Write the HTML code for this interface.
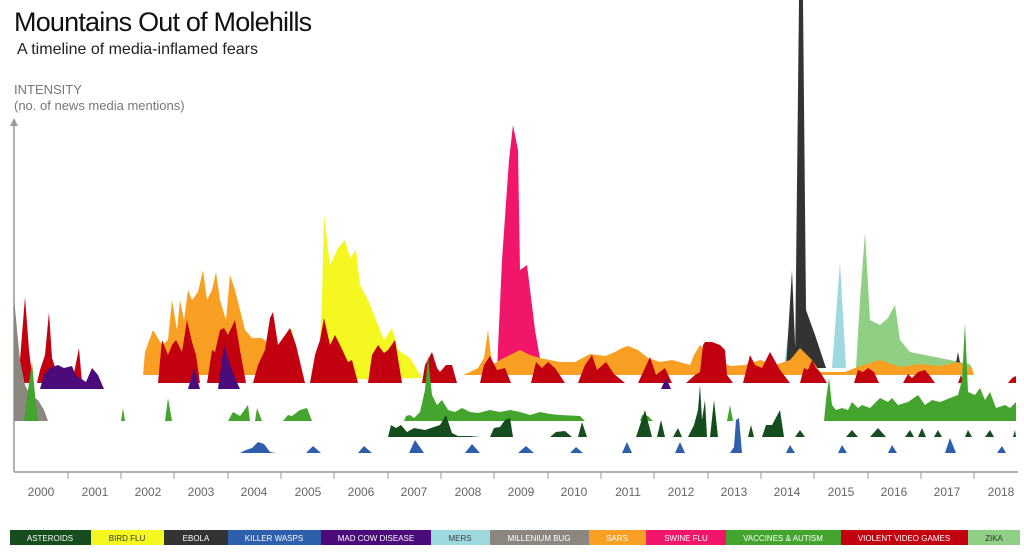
<!DOCTYPE html>
<html><head><meta charset="utf-8"><style>
body{margin:0;background:#fff;width:1024px;height:547px;overflow:hidden;font-family:"Liberation Sans",sans-serif}
</style></head><body>
<svg width="1024" height="547" viewBox="0 0 1024 547" xmlns="http://www.w3.org/2000/svg" font-family="Liberation Sans, sans-serif">
<text x="14" y="31" font-size="27" fill="#111" letter-spacing="-0.8">Mountains Out of Molehills</text>
<text x="17" y="54" font-size="16" fill="#222">A timeline of media-inflamed fears</text>
<text x="14" y="94" font-size="13" fill="#777">INTENSITY</text>
<text x="14" y="110" font-size="13" fill="#777">(no. of news media mentions)</text>
<line x1="14" y1="124" x2="14" y2="472" stroke="#999" stroke-width="1.5"/>
<path d="M10,126 L14,118 L18,126 Z" fill="#999"/>
<line x1="14" y1="472" x2="1018" y2="472" stroke="#999" stroke-width="1.5"/>
<g stroke="#999" stroke-width="1">
<line x1="68" y1="472" x2="68" y2="479"/><line x1="121" y1="472" x2="121" y2="479"/><line x1="174" y1="472" x2="174" y2="479"/><line x1="228" y1="472" x2="228" y2="479"/><line x1="281" y1="472" x2="281" y2="479"/><line x1="334" y1="472" x2="334" y2="479"/><line x1="388" y1="472" x2="388" y2="479"/><line x1="441" y1="472" x2="441" y2="479"/><line x1="494" y1="472" x2="494" y2="479"/><line x1="548" y1="472" x2="548" y2="479"/><line x1="601" y1="472" x2="601" y2="479"/><line x1="654" y1="472" x2="654" y2="479"/><line x1="708" y1="472" x2="708" y2="479"/><line x1="761" y1="472" x2="761" y2="479"/><line x1="814" y1="472" x2="814" y2="479"/><line x1="868" y1="472" x2="868" y2="479"/><line x1="921" y1="472" x2="921" y2="479"/><line x1="974" y1="472" x2="974" y2="479"/>
</g>
<g font-size="12" fill="#666" text-anchor="middle">
<text x="41" y="496">2000</text><text x="95" y="496">2001</text><text x="148" y="496">2002</text><text x="201" y="496">2003</text><text x="254" y="496">2004</text><text x="308" y="496">2005</text><text x="361" y="496">2006</text><text x="414" y="496">2007</text><text x="468" y="496">2008</text><text x="521" y="496">2009</text><text x="574" y="496">2010</text><text x="628" y="496">2011</text><text x="681" y="496">2012</text><text x="734" y="496">2013</text><text x="787" y="496">2014</text><text x="841" y="496">2015</text><text x="894" y="496">2016</text><text x="947" y="496">2017</text><text x="1001" y="496">2018</text>
</g>

<!-- Zika -->
<path fill="#90d084" d="M856,368 L860,300 L865,232 L870,320 L880,325 L888,318 L895,305 L900,340 L910,352 L930,356 L970,364 L972,368 Z"/>
<!-- MERS -->
<path fill="#9dd9df" d="M784,368 L790,318 L795,368 Z M832,368 L840,262 L846,368 Z"/>
<!-- Ebola -->
<path fill="#333" d="M786,368 L792,270 L796,368 Z M795,368 L799,0 L803,0 L806,310 L815,335 L826,368 Z M955,368 L958,352 L961,368 Z"/>
<!-- Swine flu -->
<path fill="#f2166b" d="M497,370 L502,260 L509,160 L513,125 L518,150 L520,270 L527,265 L535,330 L542,370 Z"/>
<!-- Bird flu -->
<path fill="#f4f820" d="M318,380 L322,300 L324,215 L330,265 L338,248 L345,240 L350,258 L356,250 L360,285 L368,300 L376,320 L384,340 L392,328 L398,350 L410,358 L422,378 Z M287,380 L292,326 L296,380 Z"/>
<!-- SARS -->
<path fill="#f9a024" d="M143,375 L145,352 L153,330 L162,345 L168,340 L172,300 L177,330 L180,300 L184,320 L188,290 L192,300 L198,292 L203,270 L207,300 L212,290 L216,272 L220,300 L226,320 L230,275 L235,290 L240,310 L245,330 L252,338 L262,338 L270,345 L276,375 Z M463,375 L470,372 L478,368 L484,358 L488,330 L492,365 L500,360 L510,355 L520,350 L530,355 L540,358 L560,362 L575,362 L590,354 L605,356 L615,352 L622,348 L628,346 L638,350 L648,358 L660,362 L672,360 L690,365 L694,355 L700,345 L710,355 L730,366 L745,365 L760,360 L775,365 L790,360 L800,348 L812,360 L820,372 L845,372 L860,366 L880,360 L900,367 L920,364 L940,366 L958,362 L972,368 L974,375 Z"/>
<!-- Violent video games -->
<path fill="#c2000f" d="M18,383 L20,360 L25,297 L29,350 L33,383 Z M37,383 L40,370 L45,355 L49,312 L52,358 L56,370 L60,383 Z M72,383 L79,348 L82,383 Z
M158,383 L162,340 L168,355 L172,345 L176,340 L182,352 L187,320 L192,342 L196,355 L200,383 Z
M207,383 L212,350 L215,352 L220,330 L224,328 L228,335 L235,320 L240,350 L246,383 Z
M253,383 L258,365 L265,350 L270,318 L273,312 L278,345 L283,338 L290,328 L296,345 L305,383 Z
M310,383 L315,355 L320,340 L324,318 L330,345 L335,335 L340,345 L348,362 L352,360 L358,383 Z
M368,383 L372,355 L378,345 L384,353 L388,350 L395,340 L402,383 Z
M422,383 L425,365 L432,352 L437,368 L440,372 L446,365 L452,365 L457,383 Z
M480,383 L484,365 L490,356 L497,370 L505,368 L511,383 Z
M531,383 L536,362 L542,368 L548,362 L555,368 L565,383 Z
M578,383 L585,365 L592,355 L597,370 L606,362 L614,374 L625,383 Z
M638,383 L645,368 L650,357 L656,375 L665,368 L672,383 Z
M686,383 L695,375 L700,372 L703,345 L705,342 L712,342 L720,345 L725,350 L727,375 L733,383 Z
M743,383 L750,355 L755,365 L762,368 L770,352 L780,370 L790,383 Z
M800,383 L804,368 L808,370 L812,360 L816,368 L820,372 L827,383 Z
M854,383 L858,370 L863,372 L868,368 L874,372 L879,383 Z
M903,383 L908,374 L912,378 L918,372 L925,370 L930,376 L935,383 Z
M958,383 L961,375 L964,383 Z M1008,383 L1012,378 L1016,376 L1016,383 Z"/>
<!-- Mad cow -->
<path fill="#4b0b7a" d="M40,389 L44,375 L50,368 L58,365 L64,368 L72,366 L76,376 L80,378 L86,382 L92,368 L98,375 L104,389 Z M188,389 L194,368 L200,389 Z M218,389 L222,360 L224,345 L230,365 L236,380 L240,389 Z M661,389 L666,378 L671,389 Z"/>
<!-- Millenium bug -->
<path fill="#8c8680" d="M14,421 L14,297 L17,330 L20,360 L25,385 L30,395 L38,400 L44,410 L48,421 Z"/>
<!-- Vaccines & Autism -->
<path fill="#44a52e" d="M24,421 L28,390 L32,362 L35,395 L38,421 Z M121,421 L123,408 L125,421 Z M165,421 L168,398 L172,421 Z M228,421 L233,412 L240,416 L248,405 L250,421 Z M255,421 L257,408 L262,421 Z M283,421 L288,415 L292,416 L300,410 L307,408 L312,421 Z
M404,421 L406,416 L410,415 L414,418 L420,412 L425,390 L428,356 L432,395 L437,405 L442,400 L448,410 L455,412 L462,408 L470,412 L478,413 L490,410 L500,412 L510,410 L520,412 L530,415 L540,412 L550,414 L560,415 L580,416 L585,421 Z
M640,421 L642,415 L648,416 L653,421 Z M727,421 L730,405 L733,421 Z
M824,421 L826,400 L829,378 L832,405 L836,410 L842,408 L848,410 L852,402 L858,408 L862,405 L870,408 L880,398 L888,402 L892,398 L898,405 L908,402 L918,395 L925,405 L932,400 L940,402 L950,398 L958,395 L962,380 L965,323 L968,392 L975,395 L980,388 L985,400 L990,392 L996,408 L1005,405 L1010,408 L1016,402 L1016,421 Z"/>
<!-- Asteroids -->
<path fill="#164d1e" d="M388,437 L391,425 L396,428 L401,425 L407,432 L414,428 L425,430 L440,425 L446,415 L452,433 L458,436 L470,436 L480,437 Z
M490,437 L494,428 L500,427 L505,420 L510,418 L513,437 Z
M550,437 L556,432 L565,431 L572,437 Z M578,437 L582,422 L587,437 Z
M636,437 L645,410 L652,437 Z M657,437 L661,420 L665,437 Z M673,437 L678,428 L682,437 Z
M688,437 L694,425 L698,410 L700,385 L702,420 L705,400 L707,437 Z M710,437 L714,400 L718,437 Z
M748,437 L751,425 L754,437 Z M762,437 L766,425 L772,425 L780,410 L784,437 Z
M795,437 L800,430 L805,437 Z M846,437 L852,430 L858,437 Z M870,437 L878,428 L886,437 Z M905,437 L910,430 L914,437 Z M918,437 L922,428 L926,437 Z M934,437 L938,430 L942,437 Z M965,437 L968,430 L972,437 Z M985,437 L990,430 L994,437 Z M1013,437 L1015,430 L1016,437 Z"/>
<!-- Killer wasps -->
<path fill="#2d5fad" d="M240,453 L246,450 L252,448 L258,442 L264,444 L270,452 L276,453 Z M306,453 L313,446 L321,453 Z M358,453 L364,446 L372,453 Z M409,453 L415,440 L424,453 Z M465,453 L472,444 L480,453 Z M518,453 L526,446 L534,453 Z M570,453 L576,447 L583,453 Z M622,453 L627,442 L632,453 Z M675,453 L680,442 L685,453 Z M730,453 L734,447 L736,420 L739,418 L742,453 Z M786,453 L790,445 L795,453 Z M838,453 L842,445 L847,453 Z M888,453 L892,445 L897,453 Z M945,453 L950,438 L956,453 Z M997,453 L1002,446 L1006,453 Z"/>

<!-- Legend -->
<g font-size="8" fill="#fff" text-anchor="middle">
<rect x="10" y="530" width="81" height="15" fill="#164d1e"/><text x="50" y="541">ASTEROIDS</text>
<rect x="91" y="530" width="73" height="15" fill="#f4f820"/><text x="127" y="541" fill="#333">BIRD FLU</text>
<rect x="164" y="530" width="64" height="15" fill="#333"/><text x="196" y="541">EBOLA</text>
<rect x="228" y="530" width="93" height="15" fill="#2d5fad"/><text x="274" y="541">KILLER WASPS</text>
<rect x="321" y="530" width="110" height="15" fill="#4b0b7a"/><text x="376" y="541">MAD COW DISEASE</text>
<rect x="431" y="530" width="59" height="15" fill="#9dd9df"/><text x="460" y="541" fill="#444">MERS</text>
<rect x="490" y="530" width="99" height="15" fill="#8c8680"/><text x="539" y="541">MILLENIUM BUG</text>
<rect x="589" y="530" width="57" height="15" fill="#f9a024"/><text x="617" y="541">SARS</text>
<rect x="646" y="530" width="80" height="15" fill="#f2166b"/><text x="686" y="541">SWINE FLU</text>
<rect x="726" y="530" width="115" height="15" fill="#44a52e"/><text x="783" y="541">VACCINES &amp; AUTISM</text>
<rect x="841" y="530" width="127" height="15" fill="#c2000f"/><text x="904" y="541">VIOLENT VIDEO GAMES</text>
<rect x="968" y="530" width="52" height="15" fill="#90d084"/><text x="994" y="541" fill="#333">ZIKA</text>
</g>
</svg>
</body></html>
